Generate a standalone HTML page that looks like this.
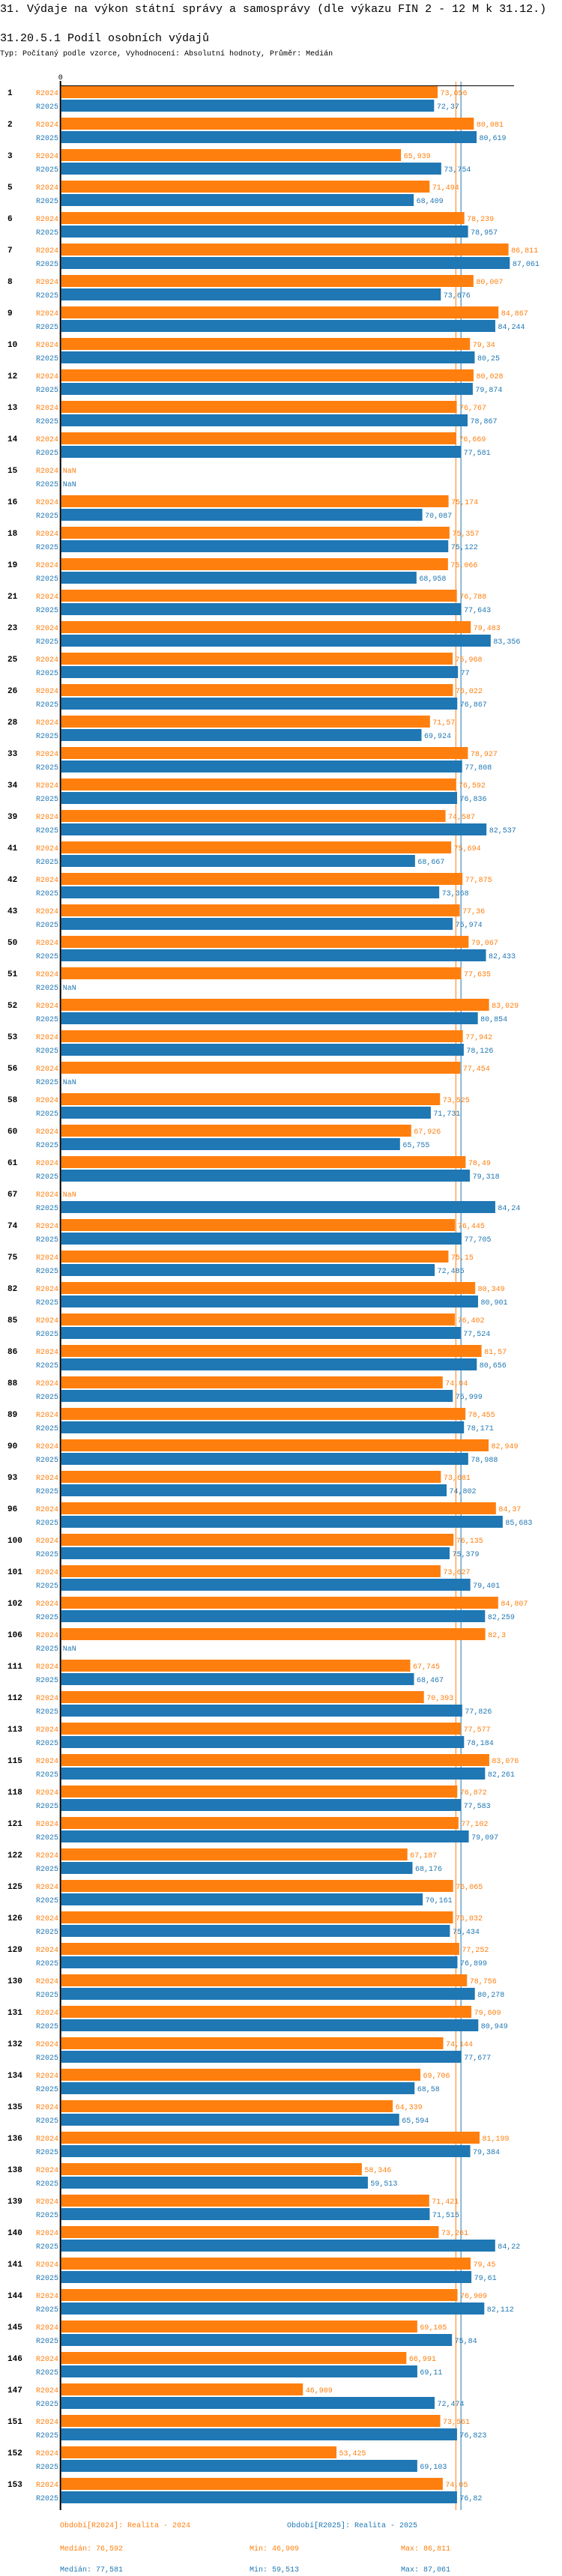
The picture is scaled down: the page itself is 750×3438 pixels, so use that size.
<!DOCTYPE html>
<html><head><meta charset="utf-8">
<style>
body{margin:0;background:#fff;width:750px;height:3438px;overflow:hidden;font-family:"Liberation Mono",monospace;}
.t{position:absolute;left:0;white-space:pre;color:#000}
</style></head>
<body>
<div class="t" style="top:4px;font-size:15px;">31. Výdaje na výkon státní správy a samosprávy (dle výkazu FIN 2 - 12 M k 31.12.)</div>
<div class="t" style="top:43px;font-size:15px;">31.20.5.1 Podíl osobních výdajů</div>
<div class="t" style="top:67px;font-size:10px;">Typ: Počítaný podle vzorce, Vyhodnocení: Absolutní hodnoty, Průměr: Medián</div>
<svg id="chart" width="750" height="3438" style="position:absolute;left:0;top:0" xmlns="http://www.w3.org/2000/svg" font-family="Liberation Mono, monospace"></svg>
<script>
const categories=["1","2","3","5","6","7","8","9","10","12","13","14","15","16","18","19","21","23","25","26","28","33","34","39","41","42","43","50","51","52","53","56","58","60","61","67","74","75","82","85","86","88","89","90","93","96","100","101","102","106","111","112","113","115","118","121","122","125","126","129","130","131","132","134","135","136","138","139","140","141","144","145","146","147","151","152","153"];
const values2024=[73.056,80.081,65.939,71.494,78.239,86.811,80.007,84.867,79.34,80.028,76.767,76.669,null,75.174,75.357,75.066,76.788,79.483,75.968,76.022,71.57,78.927,76.592,74.587,75.694,77.875,77.36,79.067,77.635,83.029,77.942,77.454,73.525,67.926,78.49,null,76.445,75.15,80.349,76.402,81.57,74.04,78.455,82.949,73.681,84.37,76.135,73.627,84.807,82.3,67.745,70.393,77.577,83.076,76.872,77.102,67.187,76.065,76.032,77.252,78.756,79.609,74.144,69.706,64.339,81.199,58.346,71.421,73.261,79.45,76.909,69.105,66.991,46.909,73.561,53.425,74.05];
const values2025=[72.37,80.619,73.754,68.409,78.957,87.061,73.676,84.244,80.25,79.874,78.867,77.581,null,70.087,75.122,68.958,77.643,83.356,77,76.867,69.924,77.808,76.836,82.537,68.667,73.368,75.974,82.433,null,80.854,78.126,null,71.731,65.755,79.318,84.24,77.705,72.485,80.901,77.524,80.656,75.999,78.171,78.988,74.802,85.683,75.379,79.401,82.259,null,68.467,77.826,78.184,82.261,77.583,79.097,68.176,70.161,75.434,76.899,80.278,80.949,77.677,68.58,65.594,79.384,59.513,71.515,84.22,79.61,82.112,75.84,69.11,72.474,76.823,69.103,76.82];
const seriesNames=["R2024","R2025"];
const medians=[76.592,77.581];
const mins=[46.909,59.513];
const maxs=[86.811,87.061];
const legendTitles=["Období[R2024]: Realita - 2024","Období[R2025]: Realita - 2025"];

const colors=["#ff7f0e","#1f77b4"];
const svg=document.getElementById('chart');
const NS="http://www.w3.org/2000/svg";
const X0=81.7,K=6.876,Y0=115,PITCH=42,BH=16;
const x=v=>X0+v*K;
const yg=i=>Y0+i*PITCH;
const fmt=v=>String(v).replace('.',',');
function mk(tag,attrs,txt){const e=document.createElementNS(NS,tag);for(const k in attrs)e.setAttribute(k,attrs[k]);if(txt!=null)e.textContent=txt;svg.appendChild(e);return e;}
const bottom=yg(categories.length-1)+34+9;
medians.forEach((m,s)=>{
  const l=mk('line',{x1:x(m),x2:x(m),y1:109,y2:bottom,stroke:colors[s],'stroke-width':1});
  
  
});
const ax=mk('line',{x1:X0-1,x2:686,y1:114.5,y2:114.5,stroke:'#000','stroke-width':1});


const ay=mk('line',{x1:X0-1,x2:X0-1,y1:108,y2:bottom,stroke:'#000','stroke-width':2});


const t0=mk('text',{x:X0-1,y:106,'font-size':10,'text-anchor':'middle',fill:'#000'},'0');


const series=[values2024,values2025];
categories.forEach((c,i)=>{
  const gy=yg(i);
  const gl=mk('text',{x:10,y:gy+12,'font-size':11,'font-weight':'bold',fill:'#000'},c);
  
  
  series.forEach((vals,s)=>{
    const by=gy+s*18;
    const sl=mk('text',{x:78,y:by+12,'font-size':10,'text-anchor':'end',fill:colors[s]},seriesNames[s]);
    
    
    const v=vals[i];
    if(v==null){
      const nl=mk('text',{x:X0+2,y:by+12,'font-size':10,fill:colors[s]},'NaN');
      
      
      return;
    }
    const r=mk('rect',{x:X0,y:by,width:x(v)-X0,height:BH,fill:colors[s]});
    
    
    const vl=mk('text',{x:x(v)+3.5,y:by+12,'font-size':10,fill:colors[s]},fmt(v));
    
    
  });
});
const lx=[80,383];
legendTitles.forEach((t,s)=>{
  const e=mk('text',{x:lx[s],y:3373,'font-size':10,fill:colors[s]},t);
  
  
});
series.forEach((_,s)=>{
  const yy=3404+s*28;
  const a=mk('text',{x:80,y:yy,'font-size':10,fill:colors[s]},'Medián: '+fmt(medians[s]));
  
  
  const b=mk('text',{x:333,y:yy,'font-size':10,fill:colors[s]},'Min: '+fmt(mins[s]));
  
  
  const d=mk('text',{x:535,y:yy,'font-size':10,fill:colors[s]},'Max: '+fmt(maxs[s]));
  
  
});
</script>
</body></html>
